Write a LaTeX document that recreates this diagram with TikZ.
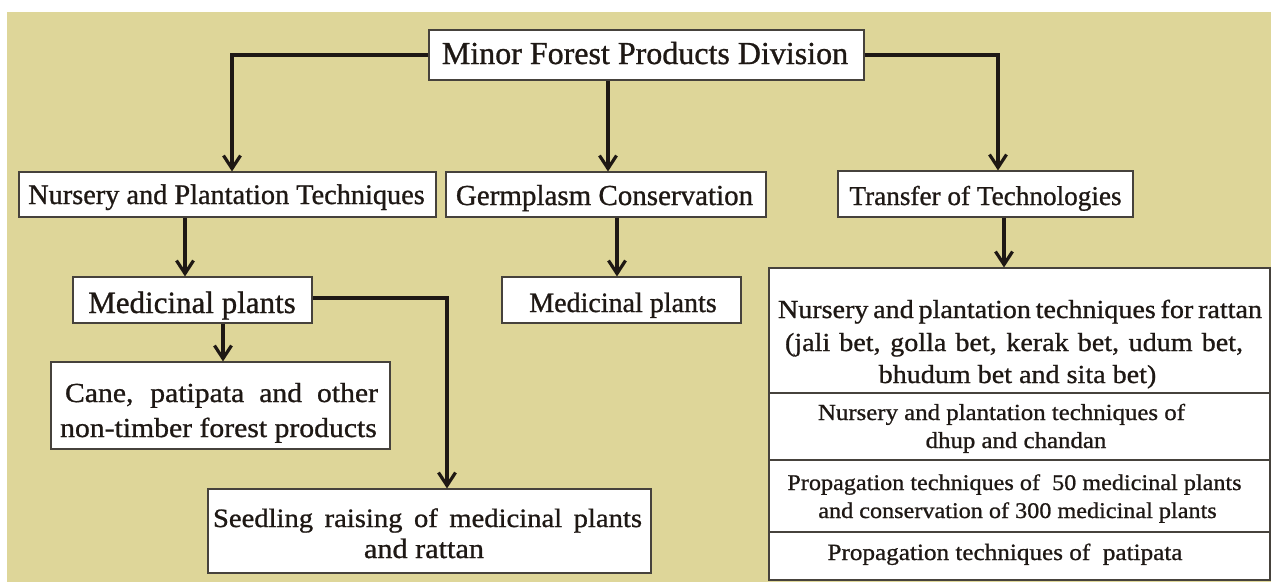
\documentclass[tikz,border=0pt]{standalone}
\usepackage{fontspec}
\setmainfont{Liberation Serif}[FakeBold=0.9]
\newfontfamily\widefont{Liberation Serif}[FakeStretch=1.08,FakeBold=0.9]
\usetikzlibrary{arrows.meta}
\definecolor{bgtan}{RGB}{222,214,153}
\definecolor{ink}{RGB}{30,24,20}
\definecolor{frame}{RGB}{70,66,60}
\newcommand{\fs}[1]{\fontsize{#1}{#1}\selectfont}
\tikzset{
  box/.style={draw=frame, line width=1.1pt, fill=white, inner sep=0pt},
  txt/.style={inner sep=0pt, anchor=base, text=ink},
  conn/.style={draw=ink, line width=3.2pt, -{Straight Barb[length=13pt,width=17pt]}}
}
\begin{document}
\begin{tikzpicture}[x=1pt,y=-1pt]
\useasboundingbox (0,0) rectangle (1271,582);
\fill[white] (0,0) rectangle (1271,582);
\fill[bgtan] (7,12) rectangle (1271,582);

% boxes
\node[box, minimum width=435pt, minimum height=50pt] (mfp) at (646.5,55) {};
\node[box, minimum width=417pt, minimum height=45pt] (nurs) at (227.5,194.5) {};
\node[box, minimum width=320pt, minimum height=45pt] (germ) at (606,194.5) {};
\node[box, minimum width=295pt, minimum height=46pt] (tech) at (985.5,194) {};
\node[box, minimum width=239pt, minimum height=46pt] (medA) at (192.5,300) {};
\node[box, minimum width=239pt, minimum height=46pt] (medB) at (621.5,300) {};
\node[box, minimum width=339pt, minimum height=87pt] (cane) at (220.5,405.5) {};
\node[box, minimum width=443pt, minimum height=84pt] (seed) at (429.5,531) {};
\node[box, minimum width=501pt, minimum height=125pt] (rat) at (1019.5,330.5) {};
\node[box, minimum width=501pt, minimum height=67pt] (dhup) at (1019.5,426.5) {};
\node[box, minimum width=501pt, minimum height=72pt] (prop) at (1019.5,496) {};
\node[box, minimum width=501pt, minimum height=48pt] (pati) at (1019.5,556) {};

% labels
\node[txt, font=\fs{32}] (mfpT) at (645,64) {Minor Forest Products Division};
\node[txt, font=\fs{28.3}] (nursT) at (226.5,204) {Nursery and Plantation Techniques};
\node[txt, font=\fs{29}] (germT) at (604.5,205) {Germplasm Conservation};
\node[txt, font=\fs{27.2}] (techT) at (985.5,205) {Transfer of Technologies};
\node[txt, font=\fs{31}] (medAT) at (192,313) {Medicinal plants};
\node[txt, font=\fs{28}] (medBT) at (623,312) {Medicinal plants};
\node[txt, font=\widefont\fs{27.5}] (caneA) at (221.5,402) {\makebox[313pt][s]{Cane, patipata and other}};
\node[txt, font=\widefont\fs{27.5}] (caneB) at (218.5,437) {non-timber forest products};
\node[txt, font=\widefont\fs{26.5}] (seedA) at (427.5,527) {\makebox[429pt][s]{Seedling raising of medicinal plants}};
\node[txt, font=\widefont\fs{28}] (seedB) at (424,558) {and rattan};
\node[txt, font=\widefont\fs{26}] (ratA) at (1020,318) {\makebox[484pt][s]{Nursery and plantation techniques for rattan}};
\node[txt, font=\widefont\fs{26}] (ratB) at (1014,351) {\makebox[458pt][s]{(jali bet, golla bet, kerak bet, udum bet,}};
\node[txt, font=\widefont\fs{26}] (ratC) at (1017.5,383) {bhudum bet and sita bet)};
\node[txt, font=\widefont\fs{23}] (dhupA) at (1001.5,420) {Nursery and plantation techniques of};
\node[txt, font=\widefont\fs{23}] (dhupB) at (1016,448) {dhup and chandan};
\node[txt, font=\widefont\fs{22.4}] (propA) at (1014.5,490) {Propagation techniques of\ \ 50 medicinal plants};
\node[txt, font=\widefont\fs{22.4}] (propB) at (1017.5,518) {and conservation of 300 medicinal plants};
\node[txt, font=\widefont\fs{23.3}] (patiT) at (1005,560) {Propagation techniques of\ \ patipata};

% connectors
\draw[conn] (mfp.west) -| ([xshift=4.5pt]nurs.north);
\draw[conn] ([xshift=2pt]germ.north |- mfp.south) -- ([xshift=2pt]germ.north);
\draw[conn] (mfp.east) -| ([xshift=12.5pt]tech.north);
\draw[conn] ([xshift=-7.5pt]medA.north |- nurs.south) -- ([xshift=-7.5pt]medA.north);
\draw[conn] ([xshift=-4.5pt]medB.north |- germ.south) -- ([xshift=-4.5pt]medB.north);
\draw[conn] ([xshift=-15.5pt]rat.north |- tech.south) -- ([xshift=-15.5pt]rat.north);
\draw[conn] ([xshift=30.5pt]medA.south) -- ([xshift=30.5pt]medA.south |- cane.north);
\draw[conn] ([yshift=2pt]medA.east) -| ([xshift=17.5pt]seed.north);
\end{tikzpicture}
\end{document}
